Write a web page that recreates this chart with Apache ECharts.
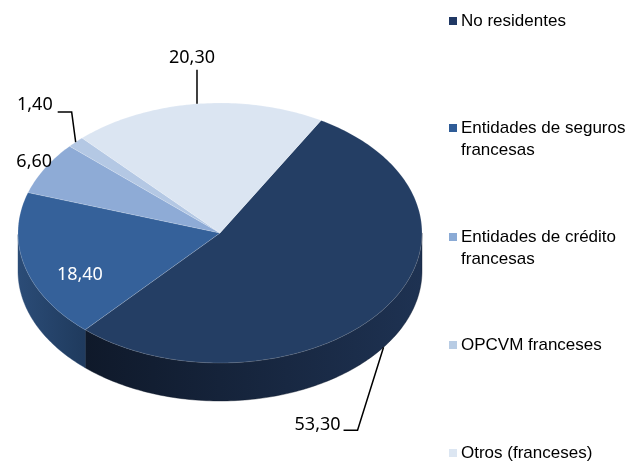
<!DOCTYPE html>
<html>
<head>
<meta charset="utf-8">
<script src="https://cdn.jsdelivr.net/npm/echarts@6/dist/echarts.min.js"></script>
<style>
html, body { margin: 0; padding: 0; background: #fff; }
#chart { width: 630px; height: 461px; }
</style>
</head>
<body>
<div id="chart"></div>
<script>
// datos
var categories = ['No residentes', 'Entidades de seguros\nfrancesas', 'Entidades de crédito\nfrancesas', 'OPCVM franceses', 'Otros (franceses)'];
var values = [53.3, 18.4, 6.6, 1.4, 20.3];

var topColors = ['#243e64', '#35619a', '#8eabd6', '#b4c8e4', '#dbe5f2'];
var sideLeft = ['#0f192a', '#2b4c77', '#7391bb', '#98aed0', '#bfcde0'];
var sideRight = ['#1e3252', '#1f3a5d', '#7391bb', '#98aed0', '#bfcde0'];
var legendColors = ['#203864', '#2f5c97', '#8aaad5', '#b8cce4', '#dce6f2'];

// pie geometry
var P = { cx: 220, cy: 233, rx: 202, ry: 130, depth: 38, start: 60 };

// label placement relative to slice edge point
var labelLayout = [
	{ line: [[0, 38], [-26, 121], [-40, 121]], dx: -43, dy: 116, align: 'right', color: '#000' },
	{ line: null, dx: 55, dy: 8, align: 'center', color: '#fff' },
	{ line: null, dx: 7, dy: -6, align: 'right', color: '#000' },
	{ line: [[0, 0], [-4, -30], [-18, -30]], dx: -23, dy: -37, align: 'right', color: '#000' },
	{ line: [[0, 0], [0, -34]], dx: -5, dy: -46, align: 'center', color: '#000' }
];

var total = values.reduce(function(a, b){ return a + b; }, 0);
var cum = [];
values.reduce(function(acc, v, i){ cum[i] = acc; return acc + v; }, 0);

function pt(deg, dy){
	var r = deg * Math.PI / 180;
	return [P.cx + P.rx * Math.cos(r), P.cy - P.ry * Math.sin(r) + (dy || 0)];
}

function renderItem(params, api){
	var i = params.dataIndex;
	var v = api.value(0);
	var a0 = P.start - cum[i] / total * 360;
	var a1 = a0 - v / total * 360;
	var children = [];

	// top face
	var top = [[P.cx, P.cy]];
	var steps = Math.max(4, Math.ceil(a0 - a1));
	for (var s = 0; s <= steps; s++) top.push(pt(a0 - (a0 - a1) * s / steps));
	children.push({ type: 'polygon', z2: 10, shape: { points: top },
		style: { fill: topColors[i], stroke: 'rgba(255,255,255,0.25)', lineWidth: 0.6 } });

	// front side wall
	var run = [];
	var flush = function(){
		if (run.length > 1) {
			var poly = run.slice();
			for (var k = run.length - 1; k >= 0; k--) poly.push([run[k][0], run[k][1] + P.depth]);
			var grad = new echarts.graphic.LinearGradient(0, 0, 1, 0, [
				{ offset: 0, color: sideLeft[i] }, { offset: 1, color: sideRight[i] }]);
			children.push({ type: 'polygon', z2: 1, shape: { points: poly },
				style: { fill: grad, stroke: sideLeft[i], lineWidth: 0.4 } });
		}
		run = [];
	};
	for (var s2 = 0; s2 <= steps; s2++){
		var a = a0 - (a0 - a1) * s2 / steps;
		if (Math.sin(a * Math.PI / 180) <= 0.001) run.push(pt(a)); else flush();
	}
	flush();

	// label
	var mid = (a0 + a1) / 2;
	var anchor = pt(mid);
	var L = labelLayout[i];
	if (L.line){
		children.push({ type: 'polyline', z2: 100,
			shape: { points: L.line.map(function(p){ return [anchor[0] + p[0], anchor[1] + p[1]]; }) },
			style: { stroke: '#000', lineWidth: 1.5, fill: null } });
	}
	children.push({ type: 'text', z2: 101, x: anchor[0] + L.dx, y: anchor[1] + L.dy,
		style: { text: v.toFixed(2).replace('.', ','), fill: L.color,
			font: '18px "Noto Sans", sans-serif', align: L.align, verticalAlign: 'middle' } });

	return { type: 'group', children: children };
}

// legend drawn as graphic items
var legendY = [21, 128, 237, 345, 453];
var legendItems = [];
categories.forEach(function(name, i){
	legendItems.push({ type: 'rect', left: 449, top: legendY[i] - 4, shape: { width: 8, height: 8 },
		style: { fill: legendColors[i] } });
	legendItems.push({ type: 'text', x: 461, y: legendY[i] - 11,
		style: { text: name, fill: '#000', font: '17px "Liberation Sans", Arial, sans-serif', lineHeight: 22 } });
});

var chart = echarts.init(document.getElementById('chart'));
chart.setOption({
	animation: false,
	backgroundColor: '#fff',
	graphic: legendItems,
	series: [{
		type: 'custom',
		coordinateSystem: 'none',
		renderItem: renderItem,
		data: values.map(function(v){ return [v]; })
	}]
});
</script>
</body>
</html>
